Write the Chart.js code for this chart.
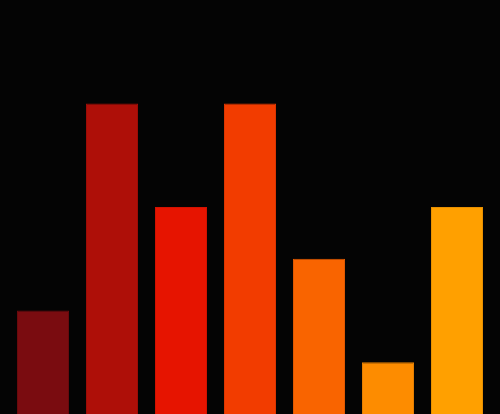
<!DOCTYPE html>
<html>
<head>
<meta charset="utf-8">
<script src="https://cdn.jsdelivr.net/npm/chart.js@4/dist/chart.umd.min.js"></script>
<style>
  html, body { margin: 0; padding: 0; background: #040404; }
  #wrap { width: 500px; height: 414px; }
</style>
</head>
<body>
<div id="wrap"><canvas id="barChart"></canvas></div>
<script>
// datos del gráfico
const categorias = ['A', 'B', 'C', 'D', 'E', 'F', 'G'];
const valores = [2, 6, 4, 6, 3, 1, 4];
const colores = ['#7a0c10', '#ae0f08', '#e61400', '#f23c00', '#f96400', '#fd8c00', '#ffa000'];
const bordes = ['#6a0a0d', '#9c0d07', '#d21200', '#dc3600', '#e05a00', '#e47e00', '#e89000'];

const ctx = document.getElementById('barChart').getContext('2d');

new Chart(ctx, {
  type: 'bar',
  data: {
    labels: categorias,
    datasets: [{
      data: valores,
      backgroundColor: colores,
      borderColor: bordes,
      borderWidth: 1,
      barPercentage: 1,
      categoryPercentage: 0.754
    }]
  },
  options: {
    responsive: true,
    maintainAspectRatio: false,
    animation: false,
    layout: { padding: { left: 8.5, right: 8.5, top: 0, bottom: 0 } },
    plugins: {
      legend: { display: false },
      tooltip: { enabled: false }
    },
    scales: {
      x: { display: false },
      y: { display: false, min: 0, max: 8 }
    }
  }
});
</script>
</body>
</html>
